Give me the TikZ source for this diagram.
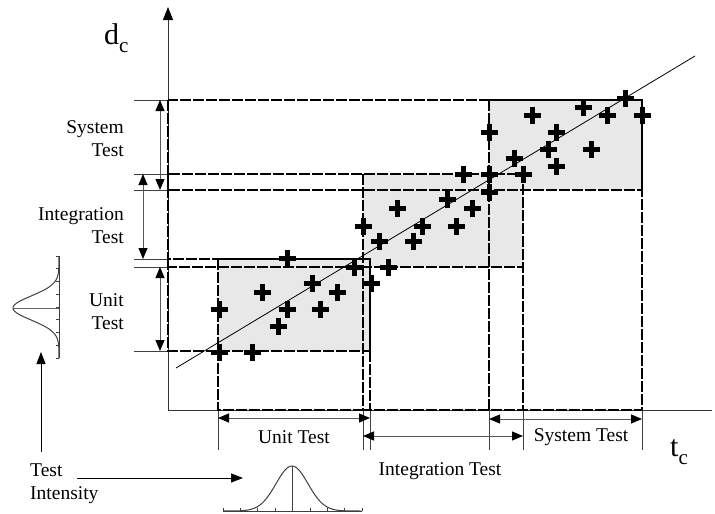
\documentclass[tikz,border=0pt]{standalone}
\usepackage{fontspec}
\setmainfont{Liberation Serif}
\usetikzlibrary{arrows.meta,calc}
\begin{document}
\begin{tikzpicture}[x=1pt,y=-1pt,
  band/.style={line width=2.6pt, dash pattern=on 11pt off 2pt},
  shadebox/.style={fill=black!9},
  dimarrow/.style={draw=black!65, line width=1pt, {Triangle[length=11pt,width=9pt,black]}-{Triangle[length=11pt,width=9pt,black]}},
  ext/.style={draw=black!75, line width=0.8pt},
  lbl/.style={font=\fontsize{19.5}{23}\selectfont, inner sep=0pt},
  pm/.style={line width=5pt},
  bell/.style={draw=black!75, line width=1pt},
  arr/.style={line width=1pt, -{Triangle[length=12pt,width=9pt]}}]
\useasboundingbox (0,0) rectangle (715,514);
% shaded boxes
\fill[shadebox] (218,259) rectangle (370,351);
\fill[shadebox] (363,174) rectangle (523,267);
\fill[shadebox] (489,100) rectangle (642,190);
% axes
\coordinate (O) at (168,410);
\coordinate (ytop) at (168,7);
\coordinate (xend) at (712,410);
\draw[line width=0.9pt, draw=black!80, -{Triangle[length=13pt,width=10pt,black]}] (O) -- (ytop);
\draw[line width=0.9pt, draw=black!80] (O) -- (xend);
% extension lines
\foreach \y in {100,174,190,259,267,351} \draw[ext] (134,\y) -- (168,\y);
\foreach \x in {218,363,370,489,523,642} \draw[ext] (\x,410) -- (\x,450);
% regression line
\draw[line width=0.8pt] (176,368) -- (695,56);
% bands
\draw[band] (168,259) rectangle (370,351);
\draw[band] (218,259) rectangle (370,410);
\draw[band] (168,174) rectangle (523,267);
\draw[band] (363,174) rectangle (523,410);
\draw[band] (168,100) rectangle (642,190);
\draw[band] (489,100) rectangle (642,410);
% plus marks
\foreach \x/\y in {287/258,354/267,371/283,312/283,262/292,337/292,219/309,287/309,320/309,278/326,219/352,252/352,
  463/174,489/174,523/174,489/192,447/199,397/208,472/208,363/226,422/226,456/226,379/241,413/241,388/267,
  625/98,583/107,532/115,607/115,642/115,489/132,556/132,548/149,591/149,514/158,556/166}
  \draw[pm] (\x-8.5,\y) -- (\x+8.5,\y) (\x,\y-8.5) -- (\x,\y+8.5);
% dimension arrows left
\draw[dimarrow] (160,100) -- (160,190);
\draw[dimarrow] (143,174) -- (143,259);
\draw[dimarrow] (160,267) -- (160,351);
% dimension arrows bottom
\draw[dimarrow] (218,418) -- (370,418);
\draw[dimarrow] (363,436) -- (523,436);
\draw[dimarrow] (489,419) -- (642,419);
% labels
\node[lbl, align=right, anchor=east] (sysl) at (124,138.5) {System\\Test};
\node[lbl, align=right, anchor=east] (intl) at (124,226) {Integration\\Test};
\node[lbl, align=right, anchor=east] (unitl) at (124,312) {Unit\\Test};
\node[lbl] (unitb) at (294,437) {Unit Test};
\node[lbl] (sysb) at (581,437) {System Test};
\node[lbl] (intb) at (440,471) {Integration Test};
\node[lbl, align=left, anchor=west] (ti) at (30,484) {Test\\Intensity};
\node[inner sep=0pt, anchor=base west] (dc) at (104,44) {\fontsize{30}{30}\selectfont d\raisebox{-8pt}{\fontsize{21}{21}\selectfont c}};
\node[inner sep=0pt, anchor=base west] (tc) at (670,456) {\fontsize{30}{30}\selectfont t\raisebox{-8pt}{\fontsize{21}{21}\selectfont c}};
% test intensity arrows
\coordinate (a1s) at (41,452);
\coordinate (a1e) at (41,352);
\draw[arr] (a1s) -- (a1e);
\coordinate (a2s) at (77,478);
\coordinate (a2e) at (243,478);
\draw[arr] (a2s) -- (a2e);
% bottom bell curve
\draw[bell] (223,511) -- (362,511);
\foreach \k in {0,...,8} \draw[bell, line width=0.6pt] (223+17.375*\k,511) -- ++(0,-3);
\draw[bell] (292,466) -- (292,511);
\draw[bell] plot[domain=223:362, samples=90] (\x, {511-45*exp(-((\x-292)*(\x-292))/(2*16*16))});
% left bell curve
\draw[bell] (59,256) -- (59,358);
\foreach \k in {0,...,8} \draw[bell, line width=0.6pt] (59,256+12.75*\k) -- ++(-3,0);
\draw[bell, draw=black!60] (13,308) -- (59,308);
\draw[bell] plot[domain=256:358, samples=90] ({59-46*exp(-((\x-308)*(\x-308))/(2*12*12))}, \x);
\end{tikzpicture}
\end{document}
